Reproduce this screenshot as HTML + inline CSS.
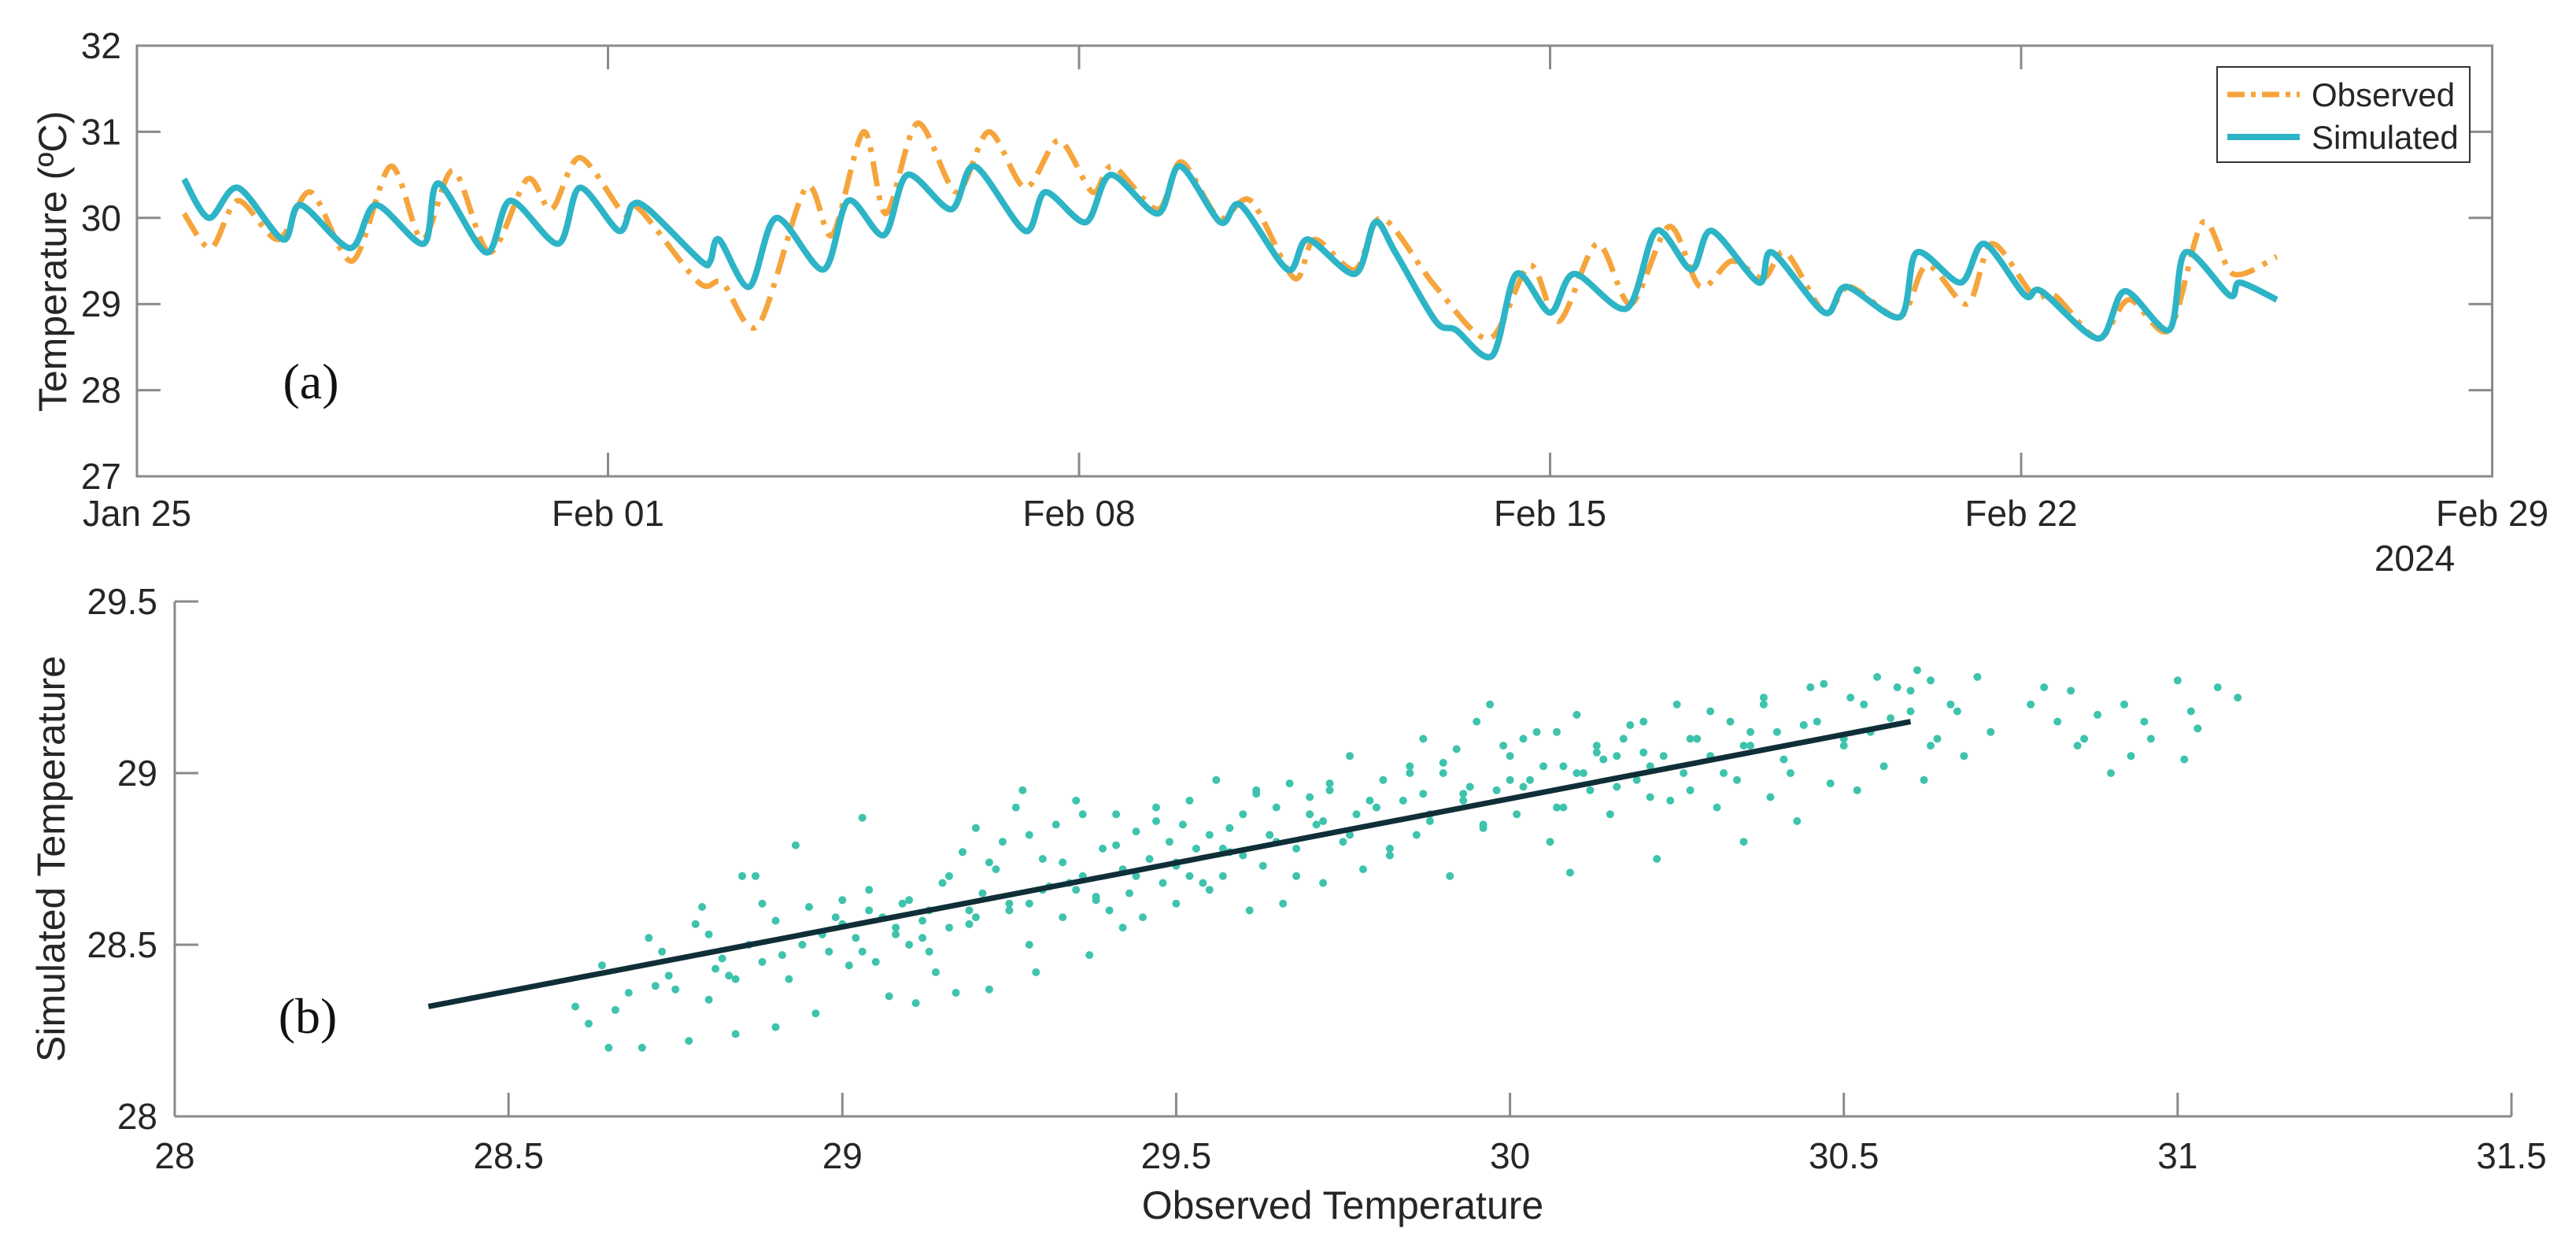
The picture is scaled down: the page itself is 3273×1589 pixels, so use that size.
<!DOCTYPE html>
<html><head><meta charset="utf-8"><style>
html,body{margin:0;padding:0;background:#fff;}
svg{display:block;}
text{font-family:"Liberation Sans",Arial,sans-serif;fill:#262626;}
.serif{font-family:"Liberation Serif",serif;fill:#111;}
</style></head><body>
<svg id="fig" width="3273" height="1589" viewBox="0 0 3273 1589" xmlns="http://www.w3.org/2000/svg">
<rect x="0" y="0" width="3273" height="1589" fill="#fff"/>
</svg>
<script>
// ---- panel (a) data ----
const obsDays = [0.7,1.1,1.5,2.1,2.58,3.2,3.77,4.24,4.7,5.24,5.8,6.16,6.58,7.23,7.47,8.35,8.7,9.23,9.94,10.33,10.8,11.13,11.6,12.18,12.66,13.2,13.7,14.2,14.5,15.17,15.52,16.08,16.55,17.2,17.5,18.1,18.5,19.3,20.1,20.7,21.13,21.7,22.2,22.77,23.23,23.7,24.17,24.5,25.08,25.45,26.2,26.6,27.2,27.57,28.18,28.5,29.15,29.6,30.2,30.7,31.15,31.8];
const obsVals = [30.05,29.65,30.2,29.75,30.3,29.5,30.6,29.75,30.55,29.6,30.45,30.1,30.7,30.05,30.1,29.25,29.25,28.75,30.35,29.8,31.0,30.05,31.1,30.3,31.0,30.35,30.9,30.3,30.6,30.1,30.65,30.0,30.2,29.3,29.75,29.4,30.0,29.2,28.6,29.45,28.8,29.7,29.0,29.9,29.2,29.5,29.3,29.6,28.9,29.2,28.85,29.45,29.0,29.7,29.1,29.1,28.6,29.05,28.7,29.95,29.35,29.55];
const simDays = [0.7,1.07,1.5,2.17,2.43,3.17,3.55,4.26,4.48,5.19,5.55,6.26,6.58,7.16,7.36,7.6,8.38,8.52,8.65,9.1,9.5,10.2,10.57,11.1,11.45,12.1,12.45,13.2,13.5,14.1,14.47,15.17,15.5,16.1,16.4,17.1,17.4,18.1,18.4,18.7,19.3,19.6,20.14,20.5,21.0,21.36,22.14,22.58,23.1,23.4,24.1,24.3,25.08,25.4,26.2,26.45,27.1,27.45,28.06,28.3,29.15,29.54,30.2,30.44,31.1,31.25,31.8];
const simVals = [30.45,30.0,30.35,29.75,30.15,29.65,30.15,29.7,30.4,29.6,30.2,29.7,30.35,29.85,30.15,30.1,29.5,29.5,29.75,29.2,30.0,29.4,30.2,29.8,30.5,30.1,30.6,29.85,30.3,29.95,30.5,30.05,30.6,29.95,30.15,29.4,29.75,29.35,29.95,29.6,28.8,28.7,28.4,29.35,28.9,29.35,28.95,29.85,29.4,29.85,29.25,29.6,28.9,29.2,28.85,29.6,29.25,29.7,29.1,29.15,28.6,29.15,28.7,29.6,29.1,29.25,29.05];
const topYTicks = [27,28,29,30,31,32];
const topXTickDays = [0,7,14,21,28,35];
const topXTickLabels = ["Jan 25","Feb 01","Feb 08","Feb 15","Feb 22","Feb 29"];
// ---- panel (b) data ----
const scatObs = [28.6,28.62,28.64,28.65,28.66,28.7,28.71,28.72,28.74,28.75,28.77,28.78,28.79,28.8,28.81,28.82,28.83,28.84,28.85,28.86,28.87,28.88,28.9,28.9,28.91,28.92,28.93,28.95,28.96,28.97,28.98,29.0,29.0,29.02,29.03,29.04,29.05,29.06,29.07,29.08,29.09,29.1,29.11,29.12,29.13,29.14,29.15,29.16,29.17,29.18,29.19,29.2,29.21,29.22,29.23,29.24,29.25,29.26,29.27,29.28,29.29,29.3,29.31,29.32,29.33,29.34,29.35,29.36,29.37,29.38,29.39,29.4,29.41,29.42,29.43,29.44,29.45,29.46,29.47,29.48,29.49,29.5,29.51,29.52,29.53,29.54,29.55,29.56,29.57,29.58,29.6,29.61,29.62,29.63,29.64,29.65,29.66,29.67,29.68,29.7,29.71,29.72,29.73,29.75,29.76,29.77,29.78,29.8,29.81,29.82,29.84,29.85,29.86,29.87,29.88,29.9,29.91,29.92,29.93,29.95,29.96,29.97,29.98,30.0,30.01,30.02,30.03,30.05,30.06,30.07,30.08,30.09,30.1,30.11,30.12,30.13,30.15,30.16,30.17,30.19,30.2,30.21,30.22,30.23,30.25,30.26,30.27,30.28,30.3,30.31,30.33,30.34,30.35,30.36,30.38,30.39,30.4,30.42,30.43,30.45,30.46,30.48,30.5,30.51,30.52,30.54,30.55,30.56,30.58,30.6,30.61,30.62,30.63,30.64,30.66,30.68,30.7,30.72,30.8,30.82,30.84,30.86,30.88,30.9,30.92,30.93,30.95,31.0,31.01,31.03,31.06,31.09,
 28.68,28.73,28.8,28.84,28.88,28.94,28.99,29.01,29.04,29.08,29.1,29.13,29.16,29.19,29.22,29.25,29.28,29.3,29.33,29.36,29.38,29.41,29.44,29.47,29.5,29.52,29.55,29.58,29.6,29.62,29.65,29.68,29.7,29.73,29.76,29.79,29.82,29.85,29.88,29.9,29.93,29.96,29.99,30.02,30.04,30.07,30.1,30.13,30.16,30.18,30.21,30.24,30.27,30.3,30.32,30.35,30.38,30.41,30.44,30.47,30.5,30.53,30.57,30.6,30.63,30.67,30.78,30.85,30.96,31.02,
 29.03,29.12,29.2,29.28,29.35,29.42,29.5,29.57,29.64,29.72,29.8,29.87,29.94,30.0,30.08,30.14,30.2,30.28,30.36,30.44];
const scatSim = [28.32,28.27,28.44,28.2,28.31,28.2,28.52,28.38,28.41,28.37,28.22,28.56,28.61,28.34,28.43,28.46,28.41,28.24,28.7,28.5,28.7,28.45,28.26,28.57,28.47,28.4,28.79,28.61,28.3,28.53,28.48,28.56,28.63,28.52,28.87,28.6,28.45,28.58,28.35,28.55,28.62,28.5,28.33,28.57,28.6,28.42,28.68,28.55,28.36,28.77,28.6,28.84,28.65,28.37,28.72,28.8,28.62,28.9,28.95,28.5,28.42,28.75,28.67,28.85,28.58,28.68,28.92,28.7,28.47,28.63,28.78,28.6,28.88,28.55,28.65,28.83,28.58,28.75,28.9,28.68,28.8,28.62,28.85,28.7,28.78,28.68,28.82,28.98,28.7,28.77,28.88,28.6,28.95,28.73,28.82,28.9,28.62,28.97,28.78,28.93,28.85,28.68,28.95,28.8,29.05,28.88,28.72,28.9,28.98,28.78,28.92,29.02,28.82,29.1,28.88,29.0,28.7,29.07,28.92,29.15,28.85,29.2,28.95,29.05,28.88,29.1,28.98,29.02,28.8,29.12,28.9,28.71,29.17,29.0,28.95,29.08,28.88,29.05,29.1,28.98,29.15,28.93,28.75,29.05,29.2,29.0,28.95,29.1,29.05,28.9,29.15,28.98,28.8,29.08,29.2,28.93,29.12,29.0,28.86,29.25,29.15,28.97,29.08,29.22,28.95,29.12,29.28,29.02,29.25,29.18,29.3,28.98,29.27,29.1,29.2,29.05,29.28,29.12,29.25,29.15,29.24,29.1,29.17,29.0,29.2,29.05,29.15,29.27,29.04,29.13,29.25,29.22,
 28.36,28.48,28.53,28.4,28.62,28.5,28.58,28.44,28.66,28.53,28.63,28.48,28.7,28.56,28.74,28.6,28.82,28.66,28.74,28.88,28.64,28.79,28.7,28.86,28.73,28.92,28.66,28.84,28.76,28.94,28.8,28.7,28.88,28.97,28.82,28.92,28.76,29.0,28.86,29.03,28.94,28.84,29.08,28.96,29.12,28.9,29.0,29.06,28.96,29.14,29.02,28.92,29.1,29.18,29.0,29.08,29.22,29.04,29.14,29.26,29.1,29.2,29.16,29.24,29.08,29.18,29.2,29.08,29.1,29.18,
 28.48,28.52,28.58,28.62,28.66,28.72,28.74,28.78,28.82,28.86,28.9,28.94,28.96,28.98,29.02,29.04,29.06,29.1,29.12,29.14];
const fitObs = [28.38,30.6];
const fitSim = [28.32,29.15];
const botXTicks = [28,28.5,29,29.5,30,30.5,31,31.5];
const botYTicks = [28,28.5,29,29.5];

// ---- scales ----
const T = {x0:174, pxDay:85.5, yTop:58, yBot:605, vTop:32, vBot:27};
const xT = d => T.x0 + d*T.pxDay;
const yT = v => T.yTop + (T.vTop - v)*(T.yBot-T.yTop)/(T.vTop-T.vBot);
const B = {x0:222, x1:3191, y0:1418, y1:764};
const xB = v => B.x0 + (v-28)*(B.x1-B.x0)/3.5;
const yB = v => B.y0 - (v-28)*(B.y0-B.y1)/1.5;

const NS = "http://www.w3.org/2000/svg";
const svg = document.getElementById('fig');
function mk(tag, attrs, parent){
  const e = document.createElementNS(NS, tag);
  for (const k in attrs) e.setAttribute(k, attrs[k]);
  (parent||svg).appendChild(e);
  return e;
}
function txt(s, attrs, parent){ const e = mk('text', attrs, parent); e.textContent = s; return e; }
function smoothPath(pts){
  let d = 'M' + pts[0][0].toFixed(1) + ',' + pts[0][1].toFixed(1);
  for (let i = 0; i < pts.length - 1; i++){
    const p0 = pts[Math.max(0,i-1)], p1 = pts[i], p2 = pts[i+1], p3 = pts[Math.min(pts.length-1,i+2)];
    const k = 0.3;
    const c1x = p1[0] + (p2[0]-p0[0])*k/2, c1y = p1[1] + (p2[1]-p0[1])*k/2;
    const c2x = p2[0] - (p3[0]-p1[0])*k/2, c2y = p2[1] - (p3[1]-p1[1])*k/2;
    d += ' C' + c1x.toFixed(1)+','+c1y.toFixed(1)+' '+c2x.toFixed(1)+','+c2y.toFixed(1)+' '+p2[0].toFixed(1)+','+p2[1].toFixed(1);
  }
  return d;
}

// ===== Panel (a) =====
const gA = mk('g', {});


const boxA = mk('rect', {x:T.x0, y:T.yTop, width:xT(35)-T.x0, height:T.yBot-T.yTop, fill:'none', stroke:'#8a8a8a', 'stroke-width':3}, gA);


topYTicks.forEach(v => {
  const y = yT(v);
  const t1 = mk('line', {x1:T.x0, x2:T.x0+30, y1:y, y2:y, stroke:'#8a8a8a', 'stroke-width':3}, gA);
  
  
  const t2 = mk('line', {x1:xT(35), x2:xT(35)-30, y1:y, y2:y, stroke:'#8a8a8a', 'stroke-width':3}, gA);
  
  
  const l = txt(String(v), {x:154, y:y+16, 'text-anchor':'end', 'font-size':46}, gA);
  
  
});
topXTickDays.forEach((d,i) => {
  const x = xT(d);
  const t1 = mk('line', {x1:x, x2:x, y1:T.yBot, y2:T.yBot-30, stroke:'#8a8a8a', 'stroke-width':3}, gA);
  
  
  const t2 = mk('line', {x1:x, x2:x, y1:T.yTop, y2:T.yTop+30, stroke:'#8a8a8a', 'stroke-width':3}, gA);
  
  
  const l = txt(topXTickLabels[i], {x:x, y:668, 'text-anchor':'middle', 'font-size':46}, gA);
  
  
});
const yr = txt('2024', {x:3068, y:725, 'text-anchor':'middle', 'font-size':46}, gA);


const ytA = txt('Temperature (\u00BAC)', {x:0, y:0, 'text-anchor':'middle', 'font-size':50, transform:'translate(84,332) rotate(-90)'}, gA);


const la = txt('(a)', {x:395, y:506, 'text-anchor':'middle', 'font-size':64, class:'serif'}, gA);



const obsPts = obsDays.map((d,i)=>[xT(d), yT(obsVals[i])]);
const obsLine = mk('path', {d:smoothPath(obsPts), fill:'none', stroke:'#f5a53c', 'stroke-width':7, 'stroke-dasharray':'32 12 6 12', 'stroke-linejoin':'round'}, gA);


const simPts = simDays.map((d,i)=>[xT(d), yT(simVals[i])]);
const simLine = mk('path', {d:smoothPath(simPts), fill:'none', stroke:'#2db4c6', 'stroke-width':8, 'stroke-linejoin':'round'}, gA);



// legend
const leg = mk('g', {}, gA);


mk('rect', {x:2817, y:85, width:321, height:121, fill:'#fff', stroke:'#333', 'stroke-width':2}, leg);
const le1 = mk('line', {x1:2830, x2:2922, y1:120, y2:120, stroke:'#f5a53c', 'stroke-width':7, 'stroke-dasharray':'22 8 6 8'}, leg);


const lt1 = txt('Observed', {x:2937, y:135, 'font-size':42}, leg);


const le2 = mk('line', {x1:2830, x2:2922, y1:174, y2:174, stroke:'#2db4c6', 'stroke-width':8}, leg);


const lt2 = txt('Simulated', {x:2937, y:189, 'font-size':42}, leg);



// ===== Panel (b) =====
const gB = mk('g', {});


const axX = mk('line', {x1:B.x0, x2:B.x1, y1:B.y0, y2:B.y0, stroke:'#8a8a8a', 'stroke-width':3}, gB);


const axY = mk('line', {x1:B.x0, x2:B.x0, y1:B.y0, y2:B.y1, stroke:'#8a8a8a', 'stroke-width':3}, gB);


botXTicks.forEach(v => {
  const x = xB(v);
  const t = mk('line', {x1:x, x2:x, y1:B.y0, y2:B.y0-30, stroke:'#8a8a8a', 'stroke-width':3}, gB);
  
  
  const l = txt(String(v), {x:x, y:1484, 'text-anchor':'middle', 'font-size':46}, gB);
  
  
});
botYTicks.forEach(v => {
  const y = yB(v);
  const t = mk('line', {x1:B.x0, x2:B.x0+30, y1:y, y2:y, stroke:'#8a8a8a', 'stroke-width':3}, gB);
  
  
  const l = txt(String(v), {x:200, y:y+16, 'text-anchor':'end', 'font-size':46}, gB);
  
  
});
const xtB = txt('Observed Temperature', {x:1706, y:1548, 'text-anchor':'middle', 'font-size':50}, gB);


const ytB = txt('Simulated Temperature', {x:0, y:0, 'text-anchor':'middle', 'font-size':50, transform:'translate(82,1091) rotate(-90)'}, gB);


const lb = txt('(b)', {x:391, y:1312, 'text-anchor':'middle', 'font-size':64, class:'serif'}, gB);



scatObs.forEach((o,i) => {
  const c = mk('circle', {cx:xB(o).toFixed(1), cy:yB(scatSim[i]).toFixed(1), r:5, fill:'#3ec3ad'}, gB);
  
  
});
const fit = mk('line', {x1:xB(fitObs[0]), y1:yB(fitSim[0]), x2:xB(fitObs[1]), y2:yB(fitSim[1]), stroke:'#0f2e38', 'stroke-width':7}, gB);


</script>
</body></html>
